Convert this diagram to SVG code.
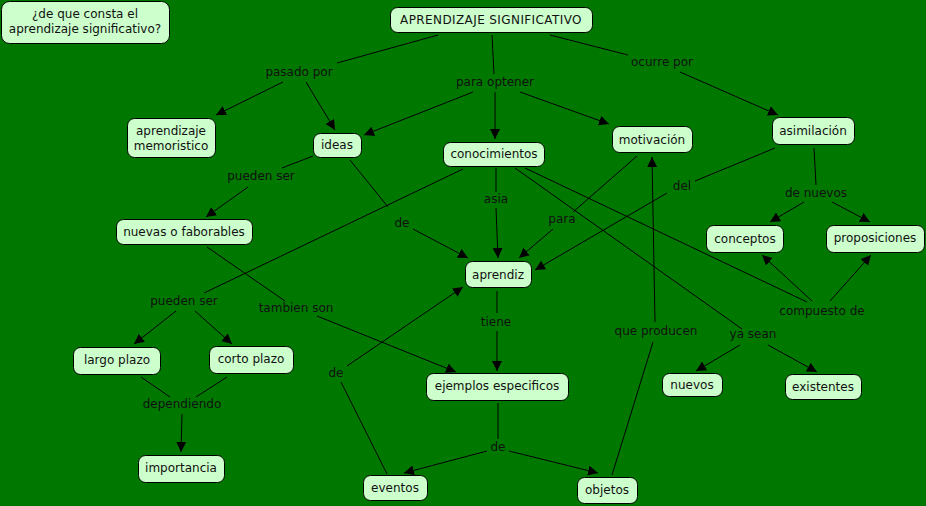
<svg xmlns="http://www.w3.org/2000/svg" width="926" height="506" viewBox="0 0 926 506">
<defs>
<style>
.n rect{fill:#ccffcc;stroke:#000;stroke-width:1}
text{font-family:"DejaVu Sans","Verdana",sans-serif;font-size:12px;fill:#111;text-anchor:middle}
.c line{stroke:#000;stroke-width:1}
.c line.a{marker-end:url(#ah)}
</style>
<marker id="ah" markerWidth="11" markerHeight="11" refX="10" refY="5" orient="auto" markerUnits="userSpaceOnUse"><path d="M0,0 L10,5 L0,10 z" fill="#000"/></marker>
</defs>
<rect width="926" height="506" fill="#007800"/>
<g class="c" id="connectors">
<line x1="438" y1="35" x2="337" y2="63"/>
<line class="a" x1="283" y1="82" x2="216" y2="115"/>
<line class="a" x1="306" y1="82" x2="335" y2="130"/>
<line x1="492" y1="35" x2="494" y2="74"/>
<line class="a" x1="473" y1="92" x2="364" y2="135"/>
<line class="a" x1="495" y1="92" x2="495" y2="139"/>
<line class="a" x1="520" y1="92" x2="609" y2="124"/>
<line x1="550" y1="35" x2="628" y2="55"/>
<line class="a" x1="680" y1="72" x2="778" y2="115"/>
<line x1="313" y1="156" x2="282" y2="168"/>
<line class="a" x1="248" y1="187" x2="206" y2="217"/>
<line x1="350" y1="160" x2="388" y2="207"/>
<line class="a" x1="413" y1="229" x2="468" y2="258"/>
<line x1="496" y1="168" x2="496" y2="192"/>
<line class="a" x1="496" y1="208" x2="498" y2="258"/>
<line x1="637" y1="156" x2="573" y2="212"/>
<line class="a" x1="553" y1="229" x2="519" y2="258"/>
<line x1="775" y1="148" x2="695" y2="181"/>
<line class="a" x1="667" y1="193" x2="535" y2="270"/>
<line x1="814" y1="148" x2="816" y2="185"/>
<line class="a" x1="804" y1="202" x2="770" y2="222"/>
<line class="a" x1="832" y1="202" x2="870" y2="222"/>
<line x1="463" y1="169" x2="204" y2="293"/>
<line class="a" x1="176" y1="311" x2="134" y2="344"/>
<line class="a" x1="195" y1="311" x2="232" y2="344"/>
<line x1="207" y1="247" x2="285" y2="301"/>
<line class="a" x1="317" y1="316" x2="456" y2="372"/>
<line x1="525" y1="168" x2="807" y2="302"/>
<line class="a" x1="812" y1="301" x2="762" y2="255"/>
<line class="a" x1="830" y1="301" x2="871" y2="255"/>
<line x1="515" y1="168" x2="742" y2="329"/>
<line class="a" x1="740" y1="345" x2="696" y2="371"/>
<line class="a" x1="768" y1="345" x2="817" y2="372"/>
<line x1="497" y1="291" x2="497" y2="313"/>
<line class="a" x1="497" y1="331" x2="497" y2="371"/>
<line x1="612" y1="475" x2="653" y2="342"/>
<line class="a" x1="655" y1="322" x2="652" y2="157"/>
<line x1="387" y1="474" x2="341" y2="382"/>
<line class="a" x1="347" y1="366" x2="463" y2="287"/>
<line x1="498" y1="403" x2="498" y2="439"/>
<line class="a" x1="487" y1="451" x2="404" y2="473"/>
<line class="a" x1="509" y1="451" x2="598" y2="473"/>
<line x1="141" y1="377" x2="170" y2="397"/>
<line x1="227" y1="377" x2="196" y2="397"/>
<line class="a" x1="182" y1="414" x2="181" y2="452"/>
</g>
<g id="labels">
<text x="299" y="76">pasado por</text>
<text x="495" y="86">para optener</text>
<text x="662" y="66">ocurre por</text>
<text x="261" y="180">pueden ser</text>
<text x="402" y="227">de</text>
<text x="496" y="203">asia</text>
<text x="562" y="223">para</text>
<text x="682" y="190">del</text>
<text x="816" y="197">de nuevos</text>
<text x="184" y="305">pueden ser</text>
<text x="296" y="312">tambien son</text>
<text x="496" y="326">tiene</text>
<text x="822" y="315">compuesto de</text>
<text x="656" y="335">que producen</text>
<text x="753" y="338">ya sean</text>
<text x="336" y="377">de</text>
<text x="182" y="408">dependiendo</text>
<text x="498" y="451">de</text>
</g>
<g class="n" id="n-pregunta"><rect x="1.5" y="1.5" width="168" height="42" rx="8"/><text x="85" y="18">¿de que consta el</text><text x="85" y="33">aprendizaje significativo?</text></g>
<g class="n" id="n-aprendizaje-significativo"><rect x="390.5" y="7.5" width="202" height="25" rx="7"/><text x="491" y="24" style="letter-spacing:0.4px">APRENDIZAJE SIGNIFICATIVO</text></g>
<g class="n" id="n-memoristico"><rect x="127.5" y="118.5" width="88" height="39" rx="7"/><text x="171" y="135">aprendizaje</text><text x="171" y="150">memoristico</text></g>
<g class="n" id="n-ideas"><rect x="313.5" y="133.5" width="48" height="24" rx="7"/><text x="337" y="149">ideas</text></g>
<g class="n" id="n-conocimientos"><rect x="443.5" y="142.5" width="101" height="24" rx="7"/><text x="494" y="158">conocimientos</text></g>
<g class="n" id="n-motivacion"><rect x="612.5" y="126.5" width="80" height="26" rx="7"/><text x="652" y="144">motivación</text></g>
<g class="n" id="n-asimilacion"><rect x="772.5" y="117.5" width="82" height="27" rx="7"/><text x="813" y="135">asimilación</text></g>
<g class="n" id="n-nuevas"><rect x="116.5" y="219.5" width="136" height="25" rx="7"/><text x="184" y="236">nuevas o faborables</text></g>
<g class="n" id="n-aprendiz"><rect x="465.5" y="261.5" width="66" height="26" rx="7"/><text x="498" y="279">aprendiz</text></g>
<g class="n" id="n-conceptos"><rect x="706.5" y="225.5" width="77" height="27" rx="7"/><text x="745" y="243">conceptos</text></g>
<g class="n" id="n-proposiciones"><rect x="826.5" y="225.5" width="98" height="27" rx="7"/><text x="875" y="242">proposiciones</text></g>
<g class="n" id="n-largo"><rect x="73.5" y="347.5" width="87" height="27" rx="7"/><text x="117" y="364">largo plazo</text></g>
<g class="n" id="n-corto"><rect x="209.5" y="346.5" width="84" height="27" rx="7"/><text x="251" y="363">corto plazo</text></g>
<g class="n" id="n-importancia"><rect x="138.5" y="455.5" width="86" height="27" rx="7"/><text x="181" y="472">importancia</text></g>
<g class="n" id="n-ejemplos"><rect x="426.5" y="373.5" width="142" height="27" rx="7"/><text x="497" y="390">ejemplos especificos</text></g>
<g class="n" id="n-eventos"><rect x="363.5" y="475.5" width="64" height="25" rx="7"/><text x="395" y="492">eventos</text></g>
<g class="n" id="n-objetos"><rect x="577.5" y="477.5" width="60" height="26" rx="7"/><text x="607" y="494">objetos</text></g>
<g class="n" id="n-nuevos"><rect x="662.5" y="373.5" width="60" height="23" rx="7"/><text x="692" y="389">nuevos</text></g>
<g class="n" id="n-existentes"><rect x="785.5" y="374.5" width="76" height="25" rx="7"/><text x="823" y="391">existentes</text></g>
</svg>
